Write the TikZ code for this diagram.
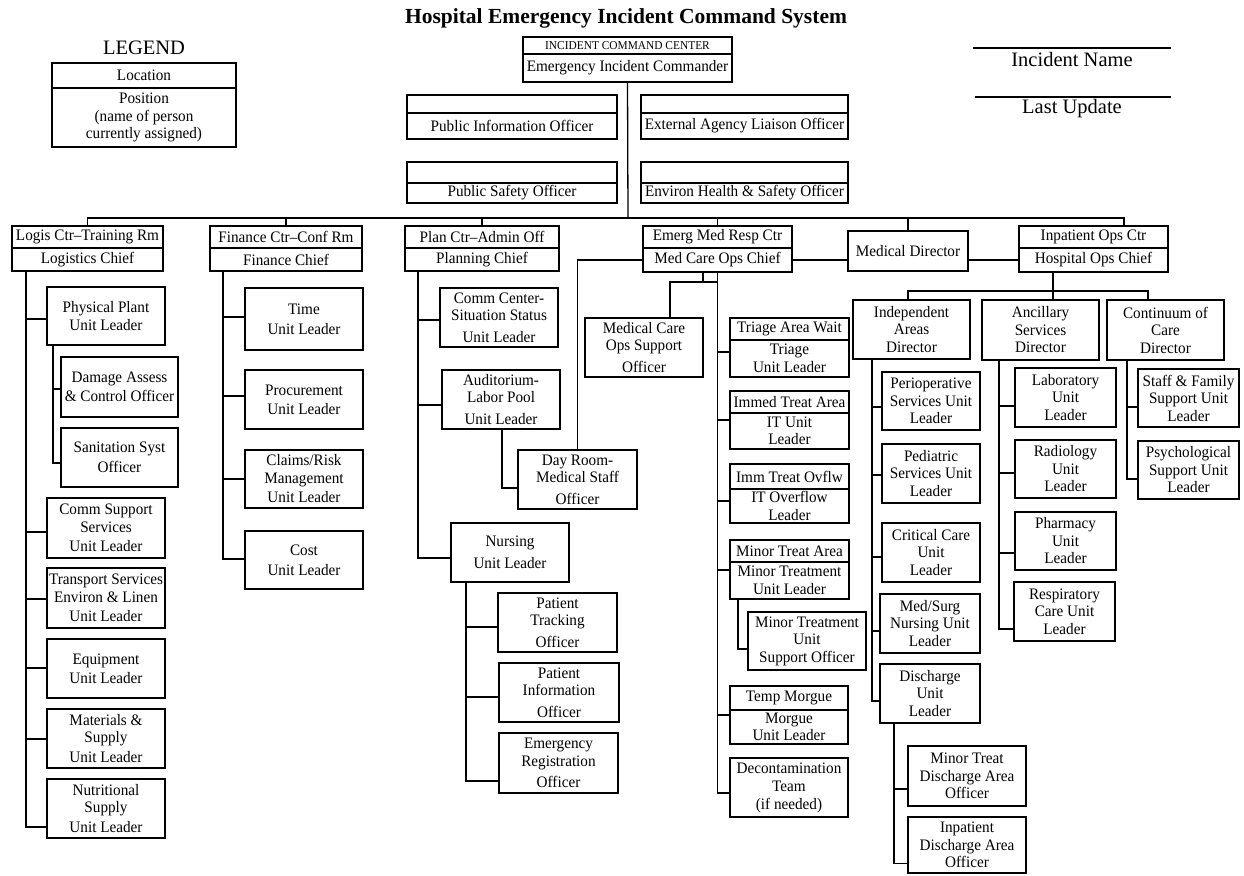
\documentclass[tikz,border=0pt]{standalone}
\usepackage{fontspec}
\setmainfont{Liberation Serif}
\newfontfamily\bodyfam{Liberation Serif}[FakeStretch=0.95]
\newcommand\bodyf{\bodyfam\fontsize{16}{17.5}\selectfont}
\newcommand\smallf{\bodyfam\fontsize{12}{13}\selectfont}
\newcommand\bigf{\fontsize{20.5}{23}\selectfont}
\newcommand\titlef{\fontsize{21.5}{24}\selectfont\bfseries}
\tikzset{
  ln/.style={draw=black, line width=1.3pt},
  bx/.style={draw=black, line width=1.2pt, align=center, inner sep=0pt, outer sep=0pt, font=\bodyf},
}
\newcommand\obox[6]{\node[bx,minimum width={(#4)-(#2)},minimum height={(#5)-(#3)}] (#1) at ({((#2)+(#4))/2},{((#3)+(#5))/2}) {#6};}
\newcommand\tbox[8]{%
\node[bx,minimum width={(#5)-(#2)},minimum height={(#4)-(#3)}] (#1-t) at ({((#2)+(#5))/2},{((#3)+(#4))/2}) {#7};%
\node[bx,minimum width={(#5)-(#2)},minimum height={(#6)-(#4)}] (#1) at ({((#2)+(#5))/2},{((#4)+(#6))/2}) {#8};}
\newcommand\cnx[3]{\draw[ln] ([yshift=#3pt]#1.west) -- ([yshift=#3pt]#1.west -| #2);}
\newcommand\cnl[3]{\draw[ln] (#2) |- ([yshift=#3pt]#1.west);}
\begin{document}
\begin{tikzpicture}[x=1pt,y=-1pt]
\fill[white] (0,0) rectangle (1244,875);
\useasboundingbox (0,0) rectangle (1244,875);

% ---------- header ----------
\node[font=\titlef] (title) at (626,18) {Hospital Emergency Incident Command System};
\node[font=\bigf] (legend) at (144,48) {LEGEND};
\tbox{leg}{52}{63}{88}{236}{147}{Location}{Position\\(name of person\\currently assigned)}
\tbox{icc}{523}{37}{54}{732}{82}{\smallf INCIDENT COMMAND CENTER}{Emergency Incident Commander}
\tbox{pio}{407}{95}{113}{617}{139}{}{Public Information Officer}
\tbox{eal}{641}{95}{113}{848}{139}{}{External Agency Liaison Officer}
\tbox{pso}{407}{162}{183}{617}{203}{}{Public Safety Officer}
\tbox{ehs}{641}{162}{183}{848}{203}{}{Environ Health \& Safety Officer}

\draw[ln] (973,48) -- (1171,48);
\node[font=\bigf] (iname) at (1072,59) {Incident Name};
\draw[ln] (975,97) -- (1171,97);
\node[font=\bigf] (lupd) at (1072,109) {Last Update};

% ---------- chiefs ----------
\tbox{logis}{12}{226}{248}{163}{271}{Logis Ctr–Training Rm}{Logistics Chief}
\tbox{fin}{210}{226}{248}{362}{271}{Finance Ctr–Conf Rm}{Finance Chief}
\tbox{plan}{405}{226}{248}{559}{271}{Plan Ctr–Admin Off}{Planning Chief}
\tbox{medcare}{643}{226}{248}{792}{272}{Emerg Med Resp Ctr}{Med Care Ops Chief}
\obox{md}{848}{231}{968}{271}{Medical Director}
\tbox{inpat}{1019}{226}{248}{1168}{272}{Inpatient Ops Ctr}{Hospital Ops Chief}

% ---------- logistics ----------
\obox{pp}{47}{287}{165}{345}{Physical Plant\\Unit Leader}
\obox{dmg}{61}{357}{178}{417}{Damage Assess\\[2pt]\& Control Officer}
\obox{san}{61}{428}{178}{487}{Sanitation Syst\\[2pt]Officer}
\obox{comm}{47}{498}{165}{558}{Comm Support\\Services\\[2pt]Unit Leader}
\obox{trans}{47}{568}{165}{628}{Transport Services\\Environ \& Linen\\[2pt]Unit Leader}
\obox{equip}{47}{639}{165}{698}{Equipment\\[1.5pt]Unit Leader}
\obox{mat}{47}{709}{165}{768}{Materials \&\\Supply\\[2pt]Unit Leader}
\obox{nutr}{47}{779}{165}{838}{Nutritional\\Supply\\[2pt]Unit Leader}

% ---------- finance ----------
\obox{time}{245}{288}{363}{350}{Time\\[2.5pt]Unit Leader}
\obox{proc}{245}{370}{363}{429}{Procurement\\[1.5pt]Unit Leader}
\obox{claims}{245}{450}{363}{508}{Claims/Risk\\Management\\[2pt]Unit Leader}
\obox{cost}{245}{531}{363}{589}{Cost\\[2.5pt]Unit Leader}

% ---------- planning ----------
\obox{commc}{440}{288}{558}{347}{Comm Center-\\Situation Status\\[4pt]Unit Leader}
\obox{aud}{442}{370}{560}{429}{Auditorium-\\Labor Pool\\[4pt]Unit Leader}
\obox{dayroom}{518}{450}{637}{509}{Day Room-\\Medical Staff\\[4pt]Officer}
\obox{nursing}{451}{523}{569}{582}{Nursing\\[4pt]Unit Leader}
\obox{ptrack}{498}{593}{617}{652}{Patient\\Tracking\\[4pt]Officer}
\obox{pinfo}{499}{663}{619}{722}{Patient\\Information\\[4pt]Officer}
\obox{ereg}{499}{733}{618}{793}{Emergency\\Registration\\[4pt]Officer}

% ---------- medical care ----------
\obox{mcsup}{585}{318}{703}{377}{Medical Care\\Ops Support\\[4pt]Officer}
\tbox{triage}{730}{318}{340}{849}{377}{Triage Area Wait}{Triage\\Unit Leader}
\tbox{immed}{730}{391}{413}{849}{449}{Immed Treat Area}{IT Unit\\Leader}
\tbox{ovflw}{730}{464}{489}{849}{523}{Imm Treat Ovflw}{IT Overflow\\Leader}
\tbox{minor}{730}{540}{562}{849}{599}{Minor Treat Area}{Minor Treatment\\Unit Leader}
\obox{msup}{748}{612}{866}{670}{Minor Treatment\\Unit\\Support Officer}
\tbox{morgue}{730}{686}{710}{848}{744}{Temp Morgue}{Morgue\\Unit Leader}
\obox{decon}{730}{758}{848}{817}{Decontamination\\[1pt]Team\\(if needed)}

% ---------- inpatient ----------
\obox{indep}{853}{300}{970}{359}{Independent\\Areas\\Director}
\obox{anc}{982}{300}{1099}{360}{Ancillary\\Services\\Director}
\obox{cont}{1107}{300}{1224}{360}{Continuum of\\Care\\Director}
\obox{perio}{882}{372}{980}{430}{Perioperative\\Services Unit\\Leader}
\obox{pedi}{882}{444}{980}{503}{Pediatric\\Services Unit\\Leader}
\obox{crit}{882}{523}{980}{582}{Critical Care\\Unit\\Leader}
\obox{medsurg}{880}{594}{980}{653}{Med/Surg\\Nursing Unit\\Leader}
\obox{disch}{880}{664}{980}{723}{Discharge\\Unit\\Leader}
\obox{mtd}{908}{746}{1026}{806}{Minor Treat\\Discharge Area\\Officer}
\obox{ipd}{908}{817}{1026}{873}{Inpatient\\Discharge Area\\Officer}
\obox{lab}{1015}{368}{1116}{427}{Laboratory\\Unit\\Leader}
\obox{rad}{1015}{440}{1116}{498}{Radiology\\Unit\\Leader}
\obox{pharm}{1015}{512}{1116}{570}{Pharmacy\\Unit\\Leader}
\obox{resp}{1014}{582}{1115}{641}{Respiratory\\Care Unit\\Leader}
\obox{staff}{1138}{369}{1239}{427}{Staff \& Family\\Support Unit\\Leader}
\obox{psych}{1138}{441}{1239}{499}{Psychological\\Support Unit\\Leader}

% ---------- top connectors ----------
\coordinate (busy) at (628,218);
\coordinate (inD) at ([xshift=30.5pt]inpat-t.north);
\draw[ln] (icc.south) -- (busy);
\draw[ln] (logis-t.north) |- (busy) -| (inD);
\draw[ln] (fin-t.north) -- (fin-t.north |- busy);
\draw[ln] (plan-t.north) -- (plan-t.north |- busy);
\draw[ln] (medcare-t.north) -- (medcare-t.north |- busy);
\draw[ln] (md.north) -- (md.north |- busy);
\draw[ln] (medcare.east) -- (medcare.east -| md.west);
\draw[ln] (inpat.west -| md.east) -- (inpat.west);
\draw[ln] (medcare.west) -| (dayroom.north);

% ---------- column coordinates ----------
\coordinate (lgx) at ([xshift=14pt]logis.south west);
\coordinate (ppx) at ([xshift=6pt]pp.south west);
\coordinate (fnx) at ([xshift=13pt]fin.south west);
\coordinate (plx) at ([xshift=13pt]plan.south west);
\coordinate (nux) at ([xshift=15pt]nursing.south west);
\coordinate (mdx) at (medcare.south);
\coordinate (mnx) at ([xshift=8pt]minor.south west);
\coordinate (idx) at ([xshift=19pt]indep.south west);
\coordinate (dsx) at ([xshift=14pt]disch.south west);
\coordinate (anx) at ([xshift=17pt]anc.south west);
\coordinate (ctx) at ([xshift=20pt]cont.south west);

% logistics
\cnx{pp}{lgx}{-3}
\cnx{comm}{lgx}{-4}
\cnx{trans}{lgx}{-1}
\cnx{equip}{lgx}{0.5}
\cnx{mat}{lgx}{-0.5}
\cnl{nutr}{lgx}{-18.5}
\cnx{dmg}{ppx}{-2}
\cnl{san}{ppx}{-5.5}
% finance
\cnx{time}{fnx}{2}
\cnx{proc}{fnx}{3.5}
\cnx{claims}{fnx}{0}
\cnl{cost}{fnx}{1}
% planning
\cnx{commc}{plx}{-2.5}
\cnx{aud}{plx}{-5.5}
\cnl{nursing}{plx}{-5.5}
\draw[ln] ([xshift=60pt]aud.south west) |- ([yshift=-8.5pt]dayroom.west);
\cnx{ptrack}{nux}{-4.5}
\cnx{pinfo}{nux}{-4.5}
\cnl{ereg}{nux}{-18}
% medical care
\coordinate (mj) at ([xshift=-14.5pt]medcare.south);
\coordinate (mh) at ([yshift=-10pt]medcare.south);
\draw[ln] (mj) -- (mj |- mh);
\draw[ln] (mh) -| ([xshift=26pt]mcsup.north);
\cnx{triage}{mdx}{6.5}
\cnx{immed}{mdx}{11}
\cnx{ovflw}{mdx}{5}
\cnx{minor}{mdx}{10.5}
\cnx{morgue}{mdx}{12}
\cnl{decon}{mdx}{-5.5}
\cnl{msup}{mnx}{-8}
% inpatient
\coordinate (ad) at ([xshift=12.5pt]anc.north);
\draw[ln] ([xshift=-3.5pt]indep.north) -- ++(0,-9) -| ([xshift=-17.5pt]cont.north);
\draw[ln] (ad |- inpat.south) -- (ad);
\cnx{perio}{idx}{-6}
\cnx{pedi}{idx}{-1.5}
\cnx{crit}{idx}{-4.5}
\cnx{medsurg}{idx}{-7.5}
\cnl{disch}{idx}{-7.5}
\cnx{mtd}{dsx}{-13}
\cnl{ipd}{dsx}{-18.5}
\cnx{lab}{anx}{-8.5}
\cnx{rad}{anx}{-4}
\cnx{pharm}{anx}{-12}
\cnl{resp}{anx}{-17.5}
\cnx{staff}{ctx}{-9}
\cnl{psych}{ctx}{-9}
\end{tikzpicture}
\end{document}
